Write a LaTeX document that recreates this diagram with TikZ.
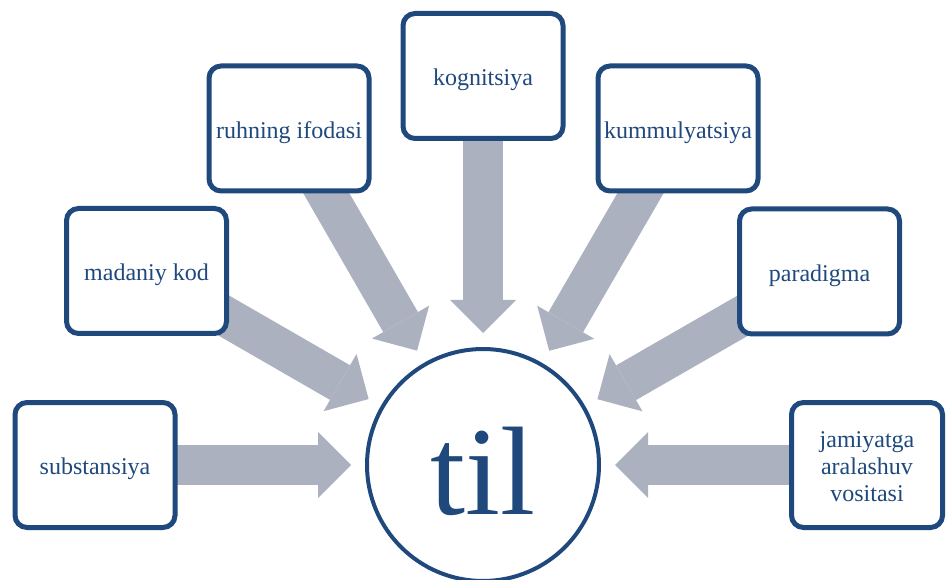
\documentclass[tikz,border=0pt]{standalone}
\usepackage{fontspec}
\setmainfont{Liberation Serif}
\usetikzlibrary{arrows.meta,backgrounds}
\definecolor{darkblue}{RGB}{31,73,125}
\definecolor{arrowgray}{RGB}{172,177,192}
\begin{document}
\begin{tikzpicture}[x=1pt,y=-1pt,
  boxnode/.style={draw=darkblue, line width=5pt, fill=white, rounded corners=12pt,
    minimum width=160pt, minimum height=125pt, inner sep=0pt, text=darkblue,
    align=center, font=\fontsize{24}{27}\selectfont,
    execute at begin node={\rule{0pt}{25pt}}},
  hubnode/.style={circle, draw=darkblue, line width=4pt, fill=white,
    minimum size=232pt, inner sep=0pt},
  hubtext/.style={text=darkblue, inner sep=0pt, font=\fontsize{126}{130}\selectfont},
  bigarrow/.style={draw=arrowgray, line width=40pt,
    -{Triangle[width=66pt,length=33pt,line width=0pt]}, shorten >=132pt}]
\useasboundingbox (0,0) rectangle (946,580);
\node[hubnode] (til) at (483,465) {};
\node[hubtext] (tiltext) at (483,471) {til};
\node[boxnode] (sub) at (95,465) {substansiya};
\node[boxnode] (mad) at (146.5,271) {madaniy kod};
\node[boxnode] (ruh) at (289,128.5) {ruhning ifodasi};
\node[boxnode] (kog) at (483,76) {kognitsiya};
\node[boxnode] (kum) at (678,128.5) {kummulyatsiya};
\node[boxnode] (par) at (819.5,271.5) {paradigma};
\node[boxnode, minimum width=151pt, execute at begin node={}] (jam) at (867,465)
  {\raisebox{-4pt}[\height][\depth]{\begin{tabular}{@{}c@{}}jamiyatga\\aralashuv\\vositasi\end{tabular}}};
\begin{scope}[on background layer]
\draw[bigarrow] (sub.center) -- (til.center);
\draw[bigarrow] (mad.center) -- (til.center);
\draw[bigarrow] (ruh.center) -- (til.center);
\draw[bigarrow] (kog.center) -- (til.center);
\draw[bigarrow] (kum.center) -- (til.center);
\draw[bigarrow] (par.center) -- (til.center);
\draw[bigarrow] (jam.center) -- (til.center);
\end{scope}
\end{tikzpicture}
\end{document}
